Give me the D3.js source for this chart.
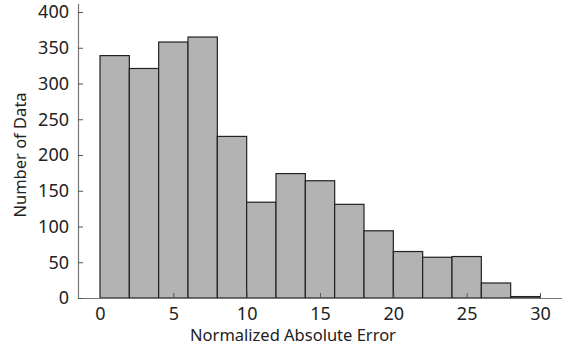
<!DOCTYPE html>
<html>
<head>
<meta charset="utf-8">
<script src="https://d3js.org/d3.v7.min.js"></script>
<style>
  body { margin: 0; background: #fff; }
  text { font-family: "Noto Sans", sans-serif; fill: #222; }
</style>
</head>
<body>
<div id="container"></div>
<script>
// histogram bins (width 2) and counts
var binStarts = [0, 2, 4, 6, 8, 10, 12, 14, 16, 18, 20, 22, 24, 26, 28];
var binWidth = 2;
var counts = [339, 321, 358, 365, 226, 134, 174, 164, 131, 94, 65, 57, 58, 21, 2];
var xTicks = [0, 5, 10, 15, 20, 25, 30];
var yTicks = [0, 50, 100, 150, 200, 250, 300, 350, 400];

var width = 568, height = 349;
var mLeft = 78, mRight = 562, mTop = 12, mBottom = 298;

var x = d3.scaleLinear().domain([-1.5, 31.5]).range([mLeft, mRight]);
var y = d3.scaleLinear().domain([0, 400]).range([mBottom, mTop]);

var svg = d3.select("#container").append("svg")
    .attr("width", width)
    .attr("height", height);

// bars
svg.append("g").selectAll("rect")
    .data(binStarts)
    .enter()
    .append("rect")
    .attr("x", function(d) { return x(d); })
    .attr("width", function(d) { return x(d + binWidth) - x(d); })
    .attr("y", function(d, i) { return y(counts[i]); })
    .attr("height", function(d, i) { return y(0) - y(counts[i]); })
    .attr("fill", "#b3b3b3")
    .attr("stroke", "#222")
    .attr("stroke-width", 1.2);

// x axis, ticks pointing inward
var xAxis = svg.append("g")
    .attr("transform", "translate(0," + mBottom + ")")
    .call(d3.axisBottom(x).tickValues(xTicks).tickSizeInner(-5).tickSizeOuter(0).tickPadding(9));

// y axis
var yAxis = svg.append("g")
    .attr("transform", "translate(" + mLeft + ",0)")
    .call(d3.axisLeft(y).tickValues(yTicks).tickSizeInner(-5).tickSizeOuter(0).tickPadding(9));

[xAxis, yAxis].forEach(function(a) {
  a.select(".domain").attr("stroke", "#777").attr("stroke-width", 1.2);
  a.selectAll(".tick line").attr("stroke", "#555");
  a.selectAll(".tick text").style("font-size", "18px").attr("fill", "#222");
});
yAxis.select(".domain").attr("d", "M0.5,4V" + (mBottom + 0.5));
xAxis.select(".domain").attr("d", "M" + mLeft + ",0.5H" + mRight);

// axis labels
svg.append("text")
    .attr("x", 293)
    .attr("y", 341)
    .attr("text-anchor", "middle")
    .style("font-size", "16.5px")
    .text("Normalized Absolute Error");

svg.append("text")
    .attr("transform", "translate(26,155) rotate(-90)")
    .attr("text-anchor", "middle")
    .style("font-size", "16.5px")
    .text("Number of Data");
</script>
</body>
</html>
